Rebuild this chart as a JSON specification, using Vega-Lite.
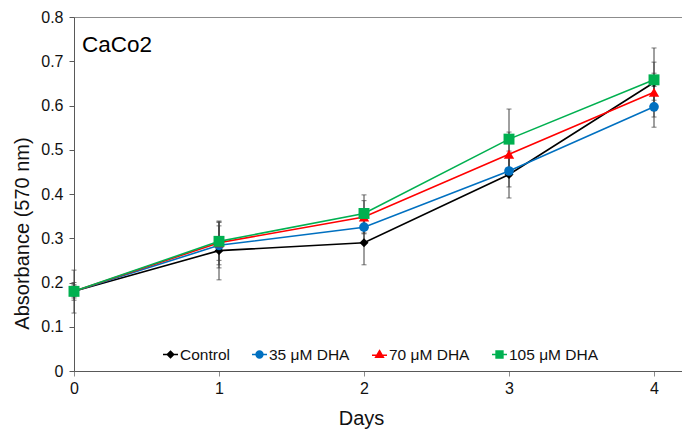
{
  "$schema": "https://vega.github.io/schema/vega-lite/v6.json",
  "width": 608,
  "height": 354,
  "autosize": {"type": "none"},
  "padding": {"left": 74, "top": 17, "right": 0, "bottom": 66},
  "config": {
    "font": "Liberation Sans",
    "view": {"stroke": "#8c8c8c", "strokeWidth": 1},
    "axis": {"grid": false, "domainColor": "#595959", "tickColor": "#8c8c8c", "labelColor": "#111", "titleColor": "#111", "labelFontSize": 16, "titleFontSize": 20, "titleFontWeight": "normal", "labelFont": "Liberation Sans", "titleFont": "Liberation Sans"}
  },
  "data": {"values": [
    {"day": 0, "series": "Control", "ord": 0, "abs": 0.180, "lo": 0.131, "hi": 0.228},
    {"day": 1, "series": "Control", "ord": 0, "abs": 0.272, "lo": 0.206, "hi": 0.339},
    {"day": 2, "series": "Control", "ord": 0, "abs": 0.290, "lo": 0.240, "hi": 0.340},
    {"day": 3, "series": "Control", "ord": 0, "abs": 0.444, "lo": 0.391, "hi": 0.497},
    {"day": 4, "series": "Control", "ord": 0, "abs": 0.652, "lo": 0.574, "hi": 0.730},
    {"day": 0, "series": "35 μM DHA", "ord": 1, "abs": 0.180, "lo": 0.160, "hi": 0.200},
    {"day": 1, "series": "35 μM DHA", "ord": 1, "abs": 0.284, "lo": 0.233, "hi": 0.337},
    {"day": 2, "series": "35 μM DHA", "ord": 1, "abs": 0.325, "lo": 0.290, "hi": 0.360},
    {"day": 3, "series": "35 μM DHA", "ord": 1, "abs": 0.452, "lo": 0.416, "hi": 0.488},
    {"day": 4, "series": "35 μM DHA", "ord": 1, "abs": 0.597, "lo": 0.551, "hi": 0.643},
    {"day": 0, "series": "70 μM DHA", "ord": 2, "abs": 0.180, "lo": 0.165, "hi": 0.195},
    {"day": 1, "series": "70 μM DHA", "ord": 2, "abs": 0.290, "lo": 0.240, "hi": 0.328},
    {"day": 2, "series": "70 μM DHA", "ord": 2, "abs": 0.348, "lo": 0.310, "hi": 0.385},
    {"day": 3, "series": "70 μM DHA", "ord": 2, "abs": 0.490, "lo": 0.440, "hi": 0.540},
    {"day": 4, "series": "70 μM DHA", "ord": 2, "abs": 0.630, "lo": 0.588, "hi": 0.673},
    {"day": 0, "series": "105 μM DHA", "ord": 3, "abs": 0.180, "lo": 0.168, "hi": 0.192},
    {"day": 1, "series": "105 μM DHA", "ord": 3, "abs": 0.293, "lo": 0.250, "hi": 0.336},
    {"day": 2, "series": "105 μM DHA", "ord": 3, "abs": 0.356, "lo": 0.312, "hi": 0.398},
    {"day": 3, "series": "105 μM DHA", "ord": 3, "abs": 0.524, "lo": 0.455, "hi": 0.592},
    {"day": 4, "series": "105 μM DHA", "ord": 3, "abs": 0.658, "lo": 0.612, "hi": 0.698}
  ]},
  "resolve": {"scale": {"shape": "independent"}, "legend": {"shape": "independent", "color": "independent"}},
  "layer": [
    {
      "mark": {"type": "rule", "color": "#404040", "strokeWidth": 1},
      "encoding": {
        "x": {"field": "day", "type": "quantitative", "scale": {"domain": [0, 4.193], "nice": false, "zero": false},
          "axis": {"values": [0, 1, 2, 3, 4], "format": "d", "title": "Days", "tickSize": 5, "labelPadding": 4, "labelFlush": false, "titlePadding": 12, "titleX": 287, "domainColor": "#595959"}},
        "y": {"field": "lo", "type": "quantitative", "scale": {"domain": [0, 0.8], "nice": false},
          "axis": {"values": [0, 0.1, 0.2, 0.3, 0.4, 0.5, 0.6, 0.7, 0.8], "title": "Absorbance (570 nm)", "tickSize": 5, "tickColor": "#595959", "labelPadding": 6, "titlePadding": 8, "titleY": 216, "labelFlush": false,
            "labelExpr": "datum.value == 0 ? '0' : format(datum.value, '.1f')"}},
        "y2": {"field": "hi"}
      }
    },
    {
      "mark": {"type": "tick", "orient": "horizontal", "color": "#404040", "thickness": 1, "size": 5},
      "encoding": {
        "x": {"field": "day", "type": "quantitative"},
        "y": {"field": "lo", "type": "quantitative"}
      }
    },
    {
      "mark": {"type": "tick", "orient": "horizontal", "color": "#404040", "thickness": 1, "size": 5},
      "encoding": {
        "x": {"field": "day", "type": "quantitative"},
        "y": {"field": "hi", "type": "quantitative"}
      }
    },
    {
      "mark": {"type": "line", "strokeWidth": 1.6},
      "encoding": {
        "x": {"field": "day", "type": "quantitative"},
        "y": {"field": "abs", "type": "quantitative"},
        "detail": {"field": "series"},
        "order": {"field": "day"},
        "color": {"field": "series", "type": "nominal", "legend": null,
          "scale": {"domain": ["Control", "35 μM DHA", "70 μM DHA", "105 μM DHA"], "range": ["#000000", "#0070C0", "#FF0000", "#00B050"]}}
      }
    },
    {
      "mark": {"type": "point", "filled": true, "opacity": 1},
      "encoding": {
        "x": {"field": "day", "type": "quantitative"},
        "y": {"field": "abs", "type": "quantitative"},
        "order": {"field": "ord"},
        "color": {"field": "series", "type": "nominal", "legend": null},
        "shape": {"field": "series", "type": "nominal", "legend": null,
          "scale": {"domain": ["Control", "35 μM DHA", "70 μM DHA", "105 μM DHA"], "range": ["diamond", "circle", "triangle-up", "square"]}},
        "size": {"field": "series", "type": "nominal", "legend": null,
          "scale": {"domain": ["Control", "35 μM DHA", "70 μM DHA", "105 μM DHA"], "range": [80, 120, 100, 120]}}
      }
    },
    {
      "mark": {"type": "point", "filled": true, "opacity": 0},
      "encoding": {
        "x": {"field": "day", "type": "quantitative"},
        "y": {"field": "abs", "type": "quantitative"},
        "color": {"field": "series", "type": "nominal",
          "legend": {"title": null, "orient": "none", "legendX": 88, "legendY": 329, "direction": "horizontal", "symbolSize": 225, "symbolOpacity": 1, "symbolStrokeWidth": 1.6, "labelFontSize": 15.5, "labelColor": "#111", "labelOffset": 1, "columnPadding": 18, "padding": 0, "labelFont": "Liberation Sans",
            "encode": {"symbols": {"update": {"stroke": {"scale": "color", "field": "value"}, "opacity": {"value": 1}}}}}},
        "shape": {"field": "series", "type": "nominal",
          "scale": {"domain": ["Control", "35 μM DHA", "70 μM DHA", "105 μM DHA"], "range": [
            "M-1,0H1M0,-0.42L0.42,0L0,0.42L-0.42,0Z",
            "M-1,0H1M0.45,0A0.45,0.45,0,1,1,-0.45,0A0.45,0.45,0,1,1,0.45,0Z",
            "M-1,0.1H1M0,-0.5L0.5,0.35L-0.5,0.35Z",
            "M-1,0H1M-0.45,-0.45H0.45V0.45H-0.45Z"]},
          "legend": {"title": null, "orient": "none", "legendX": 88, "legendY": 329, "direction": "horizontal", "symbolSize": 225, "symbolOpacity": 1, "symbolStrokeWidth": 1.6, "labelFontSize": 15.5, "labelColor": "#111", "labelOffset": 1, "columnPadding": 18, "padding": 0, "labelFont": "Liberation Sans",
            "encode": {"symbols": {"update": {"stroke": {"scale": "color", "field": "value"}, "opacity": {"value": 1}}}}}}
      }
    },
    {
      "data": {"values": [{"label": "CaCo2"}]},
      "mark": {"type": "text", "fontSize": 22.5, "align": "left", "baseline": "alphabetic", "dx": 8, "dy": 35, "fill": "#000", "font": "Liberation Sans"},
      "encoding": {"text": {"field": "label"}, "x": {"datum": 0}, "y": {"datum": 0.8}}
    }
  ]
}
